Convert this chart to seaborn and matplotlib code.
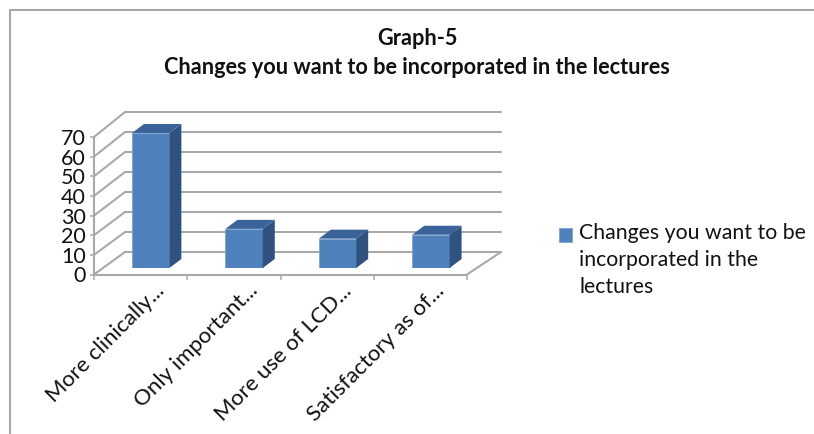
import matplotlib
matplotlib.use("Agg")
import matplotlib.pyplot as plt
import seaborn as sns
import pandas as pd
from matplotlib.lines import Line2D
from matplotlib.patches import Polygon
from matplotlib.transforms import IdentityTransform, Affine2D

categories = ["More clinically...", "Only important...", "More use of LCD...", "Satisfactory as of..."]
values = [69, 20, 15, 17]
y_ticks = [0, 10, 20, 30, 40, 50, 60, 70]
series_name = "Changes you want to be\nincorporated in the\nlectures"
title_text = "Graph-5\nChanges you want to be incorporated in the lectures"

sns.set_theme(style="white")
plt.rcParams["font.family"] = ["Lato", "DejaVu Sans"]

W, H = 814, 434
GRID = "#a9a9a9"
TXT = "#111111"

fig = plt.figure(figsize=(W / 100, H / 100), dpi=100, facecolor="white")


def add_plane(left, bottom_y, width, height):
    # pixel box measured from the top left of the picture
    a = fig.add_axes([left / W, (H - bottom_y) / H, width / W, height / H])
    a.set_xlim(-0.5, 3.5)
    a.set_ylim(0, 70)
    a.patch.set_alpha(0)
    sns.despine(ax=a, left=True, bottom=True)
    return a


ax_back = add_plane(125, 252, 376, 140)
ax_front = add_plane(94, 274.5, 373, 137.5)
ax = add_plane(104, 268, 373.6, 137)

# back wall
ax_back.set_xticks([])
ax_back.set_yticks(y_ticks)
ax_back.set_yticklabels([])
ax_back.tick_params(length=0)
ax_back.grid(axis="y", color=GRID, lw=1.5, clip_on=False)
ax_back.set_axisbelow(True)

# front axis with ticks and labels
ax_front.set_yticks(y_ticks)
ax_front.set_xticks(range(4))
ax_front.set_xticklabels(categories, rotation=45, ha="right", rotation_mode="anchor")
ax_front.set_xticks([-0.5, 0.5, 1.5, 2.5, 3.5], minor=True)
ax_front.tick_params(axis="x", which="major", length=0, pad=13, labelsize=16, labelcolor=TXT)
ax_front.tick_params(axis="x", which="minor", length=3.5, width=1.1, color=GRID, bottom=True)
ax_front.tick_params(axis="y", length=3, width=1.1, color=GRID, left=True, pad=3, labelsize=15.5, labelcolor=TXT)
for lbl in ax_front.get_xticklabels():
    lbl.set_transform(lbl.get_transform() + Affine2D().translate(14, 12))


def px(a, x, y):
    return tuple(a.transData.transform((x, y)))


def wall_line(p, q, lw=1.5):
    fig.add_artist(Line2D([p[0], q[0]], [p[1], q[1]], transform=IdentityTransform(), color=GRID, lw=lw, zorder=0.5))


# slanted side wall, floor and front edges
for t in y_ticks:
    wall_line(px(ax_front, -0.5, t), px(ax_back, -0.5, t))
wall_line(px(ax_front, -0.5, 0), px(ax_front, -0.5, 70))
wall_line(px(ax_front, -0.5, 0), px(ax_front, 3.5, 0))
wall_line(px(ax_front, 3.5, 0), px(ax_back, 3.5, 0))

# bars
df = pd.DataFrame({"category": categories, "value": values})
sns.barplot(data=df, x="category", y="value", color="#4f81bd", saturation=1, width=0.4, ax=ax, zorder=3,
            edgecolor="#7fa3cf", linewidth=0.6)
ax.set_xlim(-0.5, 3.5)
ax.set_ylim(0, 70)
ax.set_xlabel("")
ax.set_ylabel("")
ax.set_xticks([])
ax.set_yticks([])

# side and top faces of the bars
DX, DY = 12, 9
for bar in ax.containers[0]:
    x0, y0 = px(ax, bar.get_x(), 0)
    x1, y1 = px(ax, bar.get_x() + bar.get_width(), bar.get_height())
    side = [(x1, y0), (x1 + DX, y0 + DY), (x1 + DX, y1 + DY), (x1, y1)]
    top = [(x0, y1), (x1, y1), (x1 + DX, y1 + DY), (x0 + DX, y1 + DY)]
    ax.add_patch(Polygon(side, transform=IdentityTransform(), fc="#2f5280", ec="none", zorder=3, clip_on=False))
    ax.add_patch(Polygon(top, transform=IdentityTransform(), fc="#3a6499", ec="none", zorder=3, clip_on=False))

fig.text(417 / W, 1 - 53 / H, title_text, ha="center", va="center", fontsize=15.6, fontweight="bold",
         color="#111111", linespacing=1.45)

leg = fig.legend([ax.containers[0]], [series_name], loc="upper left", bbox_to_anchor=(559 / W, 1 - 223 / H),
                 frameon=False, fontsize=15.3, handlelength=0.62, handleheight=0.62, handletextpad=0.33,
                 borderpad=0, borderaxespad=0, labelcolor=TXT)
leg.get_texts()[0].set_linespacing(1.45)
# square sits beside the first line of the legend text
swatch = leg.legend_handles[0]
swatch.set_y(swatch.get_y() + 18.5)

# chart border, open to the right and the bottom
fig.add_artist(Line2D([10 / W, 10 / W, 1], [0, 1 - 9.5 / H, 1 - 9.5 / H], color="#a6a6a6", lw=1.5))

fig.savefig("out.png", dpi=100)
